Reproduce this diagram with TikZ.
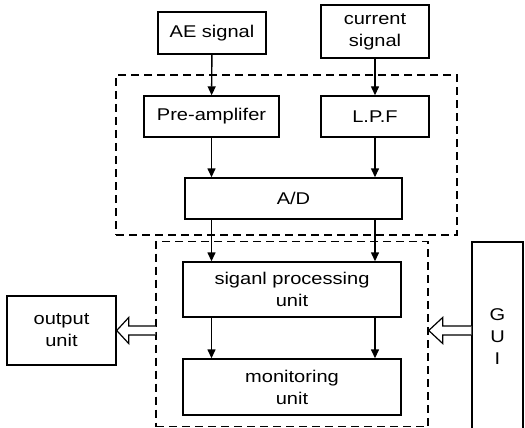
\documentclass[tikz,border=0pt]{standalone}
\usepackage{fontspec}
\setmainfont{Liberation Sans}[FakeStretch=1.18]
\usetikzlibrary{arrows.meta}
\usetikzlibrary{calc}
\tikzset {
  % plain boxes of the block diagram
  block/.style = {draw, line width=1.4pt, align=center, inner sep=2pt,
    font=\fontsize{17}{22}\selectfont},
  % dashed frames round the hardware and software parts
  frame/.style = {draw, dashed, line width=1.4pt, dash pattern=on 8pt off 5pt},
  % signal flow
  flow/.style = {line width=1.4pt, -{Triangle[length=9pt,width=8pt]}},
  % wide hollow arrows to and from the frame
  fat/.style = {line width=1.2pt, fill=white, line join=miter},
}
\begin{document}
\begin{tikzpicture}[x=1pt, y=-1pt]
  \useasboundingbox (0,0) rectangle (525,428);
  \clip (0,0) rectangle (525,428);

  % frames
  \node[frame, minimum width=341pt, minimum height=160pt] (daq) at (286.5,155) {};
  \node[frame, minimum width=272pt, minimum height=185pt] (sys) at (292,334) {};

  % inputs
  \node[block, minimum width=108pt, minimum height=42pt] (ae) at (212,33) {AE signal};
  \node[block, minimum width=108pt, minimum height=53pt] (cur) at (375,31.5) {current\\signal};

  % acquisition
  \node[block, minimum width=135pt, minimum height=41pt] (pre) at (211.5,116.5) {Pre-amplifer};
  \node[block, minimum width=108pt, minimum height=41pt] (lpf) at (375,116.5) {L.P.F};
  \node[block, minimum width=217pt, minimum height=41pt] (ad) at (293.5,198.5) {A/D};

  % processing
  \node[block, minimum width=218pt, minimum height=55pt] (sp) at (292,289.5) {siganl processing\\unit};
  \node[block, minimum width=218pt, minimum height=56pt] (mon) at (292,387) {monitoring\\unit};

  % outside
  \node[block, minimum width=109pt, minimum height=69pt] (out) at (61.5,330.5) {output\\unit};
  \node[block, minimum width=51pt, minimum height=190pt] (gui) at (497.5,337) {G\\U\\I};

  \draw[flow] (ae) -- (pre);
  \draw[flow] (cur) -- (lpf);
  \draw[flow] (pre) -- (pre |- ad.north);
  \draw[flow] (lpf) -- (lpf |- ad.north);
  \draw[flow] (ad.south -| pre) -- (sp.north -| pre);
  \draw[flow] (ad.south -| lpf) -- (sp.north -| lpf);
  \draw[flow] (sp.south -| pre) -- (mon.north -| pre);
  \draw[flow] (sp.south -| lpf) -- (mon.north -| lpf);

  % hollow arrows
  \coordinate (tailL) at (sys.west |- out.east);
  \draw[fat] ($(tailL)+(0,-4.5)$) -- ($(out.east)+(12,-4.5)$) -- ($(out.east)+(12,-13)$)
    -- (out.east) -- ($(out.east)+(12,13)$) -- ($(out.east)+(12,4.5)$) -- ($(tailL)+(0,4.5)$);
  \coordinate (tipR) at (sys.east |- out.east);
  \coordinate (tailR) at (gui.west |- out.east);
  \draw[fat] ($(tailR)+(0,-4.5)$) -- ($(tipR)+(14,-4.5)$) -- ($(tipR)+(14,-13)$)
    -- (tipR) -- ($(tipR)+(14,13)$) -- ($(tipR)+(14,4.5)$) -- ($(tailR)+(0,4.5)$);
\end{tikzpicture}
\end{document}
